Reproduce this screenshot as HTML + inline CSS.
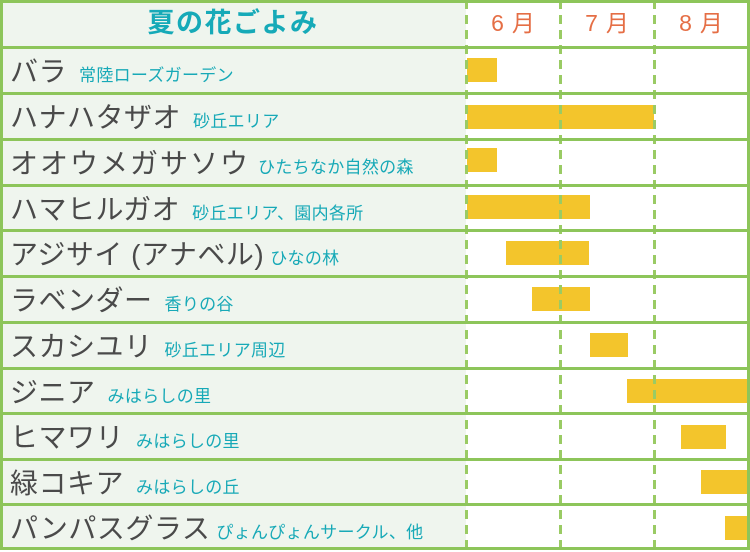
<!DOCTYPE html>
<html><head><meta charset="utf-8"><style>
*{margin:0;padding:0;box-sizing:border-box}
body{width:750px;height:550px;background:#fff;position:relative;overflow:hidden;font-family:"Liberation Sans","Noto Sans CJK JP",sans-serif}
.left{position:absolute;left:0;top:0;width:466px;height:550px;background:#eff5ee}
.h{position:absolute;left:0;width:750px;height:3px;background:#8dc55a}
.v{position:absolute;top:0;width:3px;height:550px;background:#8dc55a}
.d{position:absolute;top:0;width:3px;height:550px;background:repeating-linear-gradient(to bottom,#9acb64 0 9px,transparent 9px 15px)}
.bar{position:absolute;height:24px;background:#f3c52c}
.row{position:absolute;left:10px;height:45px;display:flex;align-items:baseline;white-space:nowrap}
.n{font-size:28px;color:#4a4a4a;line-height:47px;letter-spacing:0.5px}
.s{font-size:17px;color:#17a9b7;margin-left:12px;letter-spacing:0.3px}
.t{position:absolute;top:0;height:46px;line-height:46px;text-align:center}
.m{font-size:23px;color:#e56e45;letter-spacing:8px;padding-left:8px}
</style></head><body>
<div class="left"></div>
<div class="t" style="left:0;width:466px;font-size:27px;font-weight:bold;color:#16aab8;letter-spacing:1.5px">夏の花ごよみ</div>
<div class="t m" style="left:466px;width:94px">6月</div>
<div class="t m" style="left:560px;width:94px">7月</div>
<div class="t m" style="left:654px;width:94px">8月</div>

<div class="bar" style="left:467px;width:30px;top:58px"></div>
<div class="bar" style="left:467px;width:187px;top:105px"></div>
<div class="bar" style="left:467px;width:30px;top:148px"></div>
<div class="bar" style="left:467px;width:123px;top:195px"></div>
<div class="bar" style="left:506px;width:83px;top:241px"></div>
<div class="bar" style="left:532px;width:58px;top:287px"></div>
<div class="bar" style="left:590px;width:38px;top:333px"></div>
<div class="bar" style="left:627px;width:121px;top:379px"></div>
<div class="bar" style="left:681px;width:45px;top:425px"></div>
<div class="bar" style="left:701px;width:47px;top:470px"></div>
<div class="bar" style="left:725px;width:23px;top:516px"></div>

<div class="d" style="left:465px"></div>
<div class="d" style="left:559px"></div>
<div class="d" style="left:653px"></div>

<div class="h" style="top:0"></div>
<div class="h" style="top:46px"></div>
<div class="h" style="top:92px"></div>
<div class="h" style="top:138px"></div>
<div class="h" style="top:184px"></div>
<div class="h" style="top:229px"></div>
<div class="h" style="top:275px"></div>
<div class="h" style="top:321px"></div>
<div class="h" style="top:367px"></div>
<div class="h" style="top:412px"></div>
<div class="h" style="top:458px"></div>
<div class="h" style="top:503px"></div>
<div class="h" style="top:547px"></div>
<div class="v" style="left:0"></div>
<div class="v" style="left:747px"></div>

<div class="row" style="top:48px"><span class="n">バラ</span><span class="s">常陸ローズガーデン</span></div>
<div class="row" style="top:94px"><span class="n">ハナハタザオ</span><span class="s">砂丘エリア</span></div>
<div class="row" style="top:140px"><span class="n" style="letter-spacing:2px">オオウメガサソウ</span><span class="s" style="margin-left:8px">ひたちなか自然の森</span></div>
<div class="row" style="top:186px"><span class="n">ハマヒルガオ</span><span class="s">砂丘エリア、園内各所</span></div>
<div class="row" style="top:231px"><span class="n">アジサイ (アナベル)</span><span class="s" style="margin-left:6px">ひなの林</span></div>
<div class="row" style="top:277px"><span class="n">ラベンダー</span><span class="s">香りの谷</span></div>
<div class="row" style="top:323px"><span class="n">スカシユリ</span><span class="s">砂丘エリア周辺</span></div>
<div class="row" style="top:369px"><span class="n">ジニア</span><span class="s">みはらしの里</span></div>
<div class="row" style="top:414px"><span class="n">ヒマワリ</span><span class="s">みはらしの里</span></div>
<div class="row" style="top:460px"><span class="n">緑コキア</span><span class="s">みはらしの丘</span></div>
<div class="row" style="top:505px"><span class="n">パンパスグラス</span><span class="s" style="margin-left:6px">ぴょんぴょんサークル、他</span></div>
</body></html>
